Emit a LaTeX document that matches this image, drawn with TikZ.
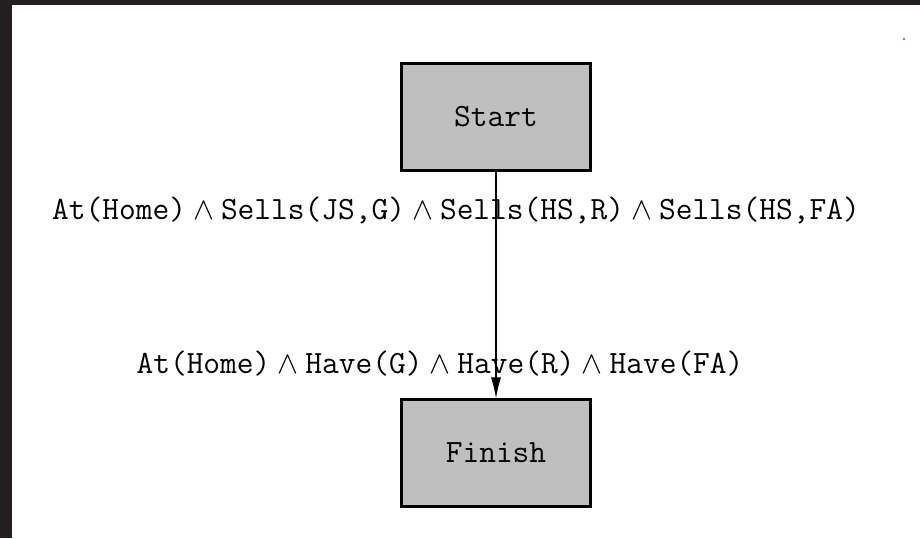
\documentclass[tikz,border=0pt]{standalone}
\usetikzlibrary{arrows.meta}
\definecolor{framegray}{HTML}{231F20}
\newcommand{\conj}{${}\wedge{}$}
\tikzset{
  action/.style={draw, line width=1pt, fill=lightgray, minimum width=66pt,
    minimum height=37pt, font=\fontsize{11.3}{13}\selectfont\ttfamily},
  cond/.style={font=\fontsize{11.3}{13}\selectfont\ttfamily, inner sep=0pt},
}
\begin{document}
\begin{tikzpicture}[x=0.34783pt, y=-0.34783pt]
  % dark frame on the left and top
  \fill[framegray] (0,0) rectangle (920,538);
  \fill[white] (12,5) rectangle (920,538);
  \useasboundingbox (0,0) rectangle (920,538);
  % actions
  \node[action] (start) at (496,117) {Start};
  \node[action] (finish) at (496,453) {Finish};
  % conditions
  \node[cond] (effects) at (456,210)
    {At(Home)\conj Sells(JS,G)\conj Sells(HS,R)\conj Sells(HS,FA)};
  \node[cond] (goals) at (440,364)
    {At(Home)\conj Have(G)\conj Have(R)\conj Have(FA)};
  \draw[-{Latex[length=7.3pt,width=3.5pt]}] (start) -- (finish);
  \fill[gray] (904,39) circle (0.5pt);
\end{tikzpicture}
\end{document}
